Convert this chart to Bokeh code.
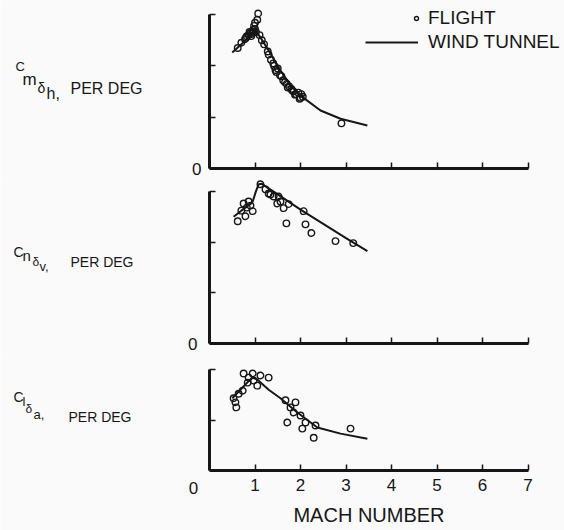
from bokeh.plotting import figure
from bokeh.models import Range1d, FixedTicker, Label, Legend, LegendItem
from bokeh.layouts import column
from bokeh.embed import file_html
from bokeh.resources import INLINE

FONT = "Liberation Sans"
BG = "#fafafa"
INK = "#161616"

mach_ticks = [0, 1, 2, 3, 4, 5, 6, 7]
mach_labels = {0: "", 1: "1", 2: "2", 3: "3", 4: "4", 5: "5", 6: "6", 7: "7"}

# ---- Cm_delta_h ----
cm_wt_mach = [0.5, 0.7, 0.9, 1.0, 1.1, 1.3, 1.56, 1.78, 2.0, 2.44, 2.88, 3.47]
cm_wt_val = [2.26, 2.42, 2.60, 2.69, 2.58, 2.30, 1.91, 1.62, 1.42, 1.13, 0.97, 0.84]
cm_fl_mach = [0.62, 0.70, 0.78, 0.80, 0.82, 0.86, 0.88, 0.90, 0.92, 0.93, 0.95, 0.96, 0.98,
              1.00, 1.00, 1.02, 1.05, 1.07, 1.10, 1.15, 1.20, 1.28, 1.30, 1.35, 1.40, 1.42,
              1.45, 1.47, 1.50, 1.55, 1.58, 1.62, 1.66, 1.70, 1.72, 1.75, 1.80, 1.82, 1.85,
              1.88, 1.90, 1.95, 1.98, 2.00, 2.02, 2.05, 2.90]
cm_fl_val = [2.35, 2.45, 2.52, 2.55, 2.58, 2.60, 2.66, 2.64, 2.58, 2.62, 2.66, 2.70, 2.78,
             2.72, 2.84, 2.66, 2.90, 3.02, 2.60, 2.50, 2.42, 2.28, 2.22, 2.12, 2.05, 2.00,
             1.92, 1.88, 1.95, 1.82, 1.80, 1.72, 1.68, 1.65, 1.58, 1.60, 1.55, 1.52, 1.50,
             1.44, 1.45, 1.48, 1.36, 1.38, 1.45, 1.40, 0.88]

# ---- Cn_delta_v ----
cn_wt_mach = [0.53, 0.70, 0.85, 0.95, 1.02, 1.08, 1.15, 1.50, 2.00, 2.50, 3.00, 3.47]
cn_wt_val = [2.50, 2.62, 2.72, 2.80, 3.00, 3.14, 3.15, 2.94, 2.64, 2.36, 2.08, 1.82]
cn_fl_mach = [0.62, 0.79, 0.95, 0.75, 0.86, 0.70, 0.82, 0.90, 1.12, 1.23, 1.30, 1.34, 1.41,
              1.49, 1.52, 1.56, 1.63, 1.69, 1.74, 2.07, 2.11, 2.24, 2.77, 3.16]
cn_fl_val = [2.41, 2.51, 2.61, 2.76, 2.80, 2.62, 2.68, 2.72, 3.14, 3.04, 2.96, 2.94, 2.90,
             2.76, 2.90, 2.80, 2.67, 2.37, 2.75, 2.61, 2.35, 2.18, 2.02, 1.98]

# ---- Cl_delta_a ----
cl_wt_mach = [0.5, 0.7, 0.85, 0.95, 1.05, 1.3, 1.56, 1.93, 2.37, 2.88, 3.47]
cl_wt_val = [1.43, 1.62, 1.76, 1.84, 1.80, 1.60, 1.43, 1.15, 0.85, 0.73, 0.63]
cl_fl_mach = [0.53, 0.57, 0.59, 0.64, 0.73, 0.75, 0.84, 0.86, 0.95, 0.97, 1.05, 1.12, 1.30,
              1.67, 1.71, 1.78, 1.85, 1.89, 2.00, 2.04, 2.11, 2.29, 2.33, 3.10]
cl_fl_val = [1.43, 1.35, 1.25, 1.52, 1.58, 1.92, 1.74, 1.84, 1.92, 1.78, 1.68, 1.88, 1.84,
             1.39, 0.95, 1.25, 1.15, 1.35, 1.09, 0.83, 0.95, 0.65, 0.89, 0.83]

W = 564
X0 = 209.0      # pixel of Mach 0
PXU = 45.5      # pixels per Mach unit
LIFT = 7        # label baseline correction


def make_panel(top, bottom, zero, ppu, yticks, ylabels):
    p = figure(width=W, height=bottom - top,
               x_range=Range1d(-X0 / PXU, (W - X0) / PXU),
               y_range=Range1d(-(bottom - zero) / ppu, (zero - top) / ppu),
               output_backend="svg", toolbar_location=None,
               min_border=0, background_fill_color=BG, border_fill_color=BG,
               outline_line_color=None)
    p.grid.visible = False
    xa, ya = p.xaxis[0], p.yaxis[0]
    xa.fixed_location = 0
    ya.fixed_location = 0
    for ax in (xa, ya):
        ax.axis_line_width = 3
        ax.axis_line_color = INK
        ax.major_tick_in = 6
        ax.major_tick_out = 0
        ax.major_tick_line_width = 1.5
        ax.major_tick_line_color = INK
        ax.minor_tick_line_color = None
        ax.major_label_text_font = FONT
        ax.major_label_text_font_size = "17px"
        ax.major_label_text_color = INK
        ax.major_label_standoff = 8
    xa.ticker = FixedTicker(ticks=mach_ticks)
    xa.bounds = (0, 7)
    xa.major_label_overrides = {t: "" for t in mach_ticks}
    ya.ticker = FixedTicker(ticks=yticks)
    ya.bounds = (0, yticks[-1])
    ya.major_label_overrides = ylabels
    return p


def add_data(p, wt_x, wt_y, fl_x, fl_y):
    ln = p.line(wt_x, wt_y, line_color=INK, line_width=2)
    sc = p.scatter(fl_x, fl_y, marker="circle", size=6.5, fill_color=None,
                   line_color=INK, line_width=1.4)
    return ln, sc


def ylabel(p, fig_bottom, parts):
    for text, x, baseline, size in parts:
        p.add_layout(Label(x=x, y=fig_bottom - baseline + LIFT, x_units="screen",
                           y_units="screen", text=text, text_font=FONT,
                           text_font_size=size, text_color=INK,
                           text_align="left", text_baseline="alphabetic"))


# top panel
T1, B1, Z1 = 0, 178, 168
p1 = make_panel(T1, B1, Z1, 51.3, [0, 1, 2, 3], {0: "0", 1: "", 2: "", 3: ""})
ln1, sc1 = add_data(p1, cm_wt_mach, cm_wt_val, cm_fl_mach, cm_fl_val)
ylabel(p1, B1, [("C", 15, 73, "13px"), ("m", 22, 86, "17px"),
                ("δ", 37, 94, "14px"), ("h,", 46, 100, "16px"),
                ("PER DEG", 70, 95, "16px")])
leg_common = dict(glyph_height=10, padding=0, margin=0, spacing=0,
                  background_fill_alpha=0, border_line_color=None,
                  label_text_font=FONT, label_text_font_size="19px", label_text_color=INK)
leg1 = Legend(items=[LegendItem(label="FLIGHT", renderers=[sc1])],
              location=(411, B1 - 29), glyph_width=10, label_standoff=7, **leg_common)
leg2 = Legend(items=[LegendItem(label="WIND TUNNEL", renderers=[ln1])],
              location=(365, B1 - 53), glyph_width=53, label_standoff=10, **leg_common)
p1.add_layout(leg1)
p1.add_layout(leg2)

# middle panel
T2, B2, Z2 = 178, 355, 343
p2 = make_panel(T2, B2, Z2, 50.7, [0, 1, 2, 3], {0: "0", 1: "", 2: "", 3: ""})
p2.yaxis[0].major_label_standoff = 12
add_data(p2, cn_wt_mach, cn_wt_val, cn_fl_mach, cn_fl_val)
ylabel(p2, B2, [("C", 13, 258, "14px"), ("n", 22, 262, "15px"),
                ("δ", 32, 268, "12px"), ("v,", 39, 273, "13px"),
                ("PER DEG", 70, 268, "14px")])

# bottom panel
T3, B3, Z3 = 355, 530, 470
p3 = make_panel(T3, B3, Z3, 50.5, [0, 1, 2], {0: "", 1: "", 2: ""})
add_data(p3, cl_wt_mach, cl_wt_val, cl_fl_mach, cl_fl_val)
xa3 = p3.xaxis[0]
xa3.major_label_overrides = mach_labels
xa3.axis_label = "MACH NUMBER"
xa3.axis_label_text_font = FONT
xa3.axis_label_text_font_size = "20px"
xa3.axis_label_text_font_style = "normal"
xa3.axis_label_text_color = INK
xa3.axis_label_standoff = 10
p3.add_layout(Label(x=0, y=0, x_offset=-16, y_offset=-17, text="0",
                    text_font=FONT, text_font_size="17px", text_color=INK,
                    text_align="center", text_baseline="middle"))
ylabel(p3, B3, [("C", 13, 403, "14px"), ("l", 22, 408, "13px"),
                ("δ", 25, 415, "12px"), ("a,", 33, 421, "13px"),
                ("PER DEG", 68, 423, "14px")])

layout = column(p1, p2, p3, spacing=0)
open("out.html", "w").write(file_html(layout, INLINE))
